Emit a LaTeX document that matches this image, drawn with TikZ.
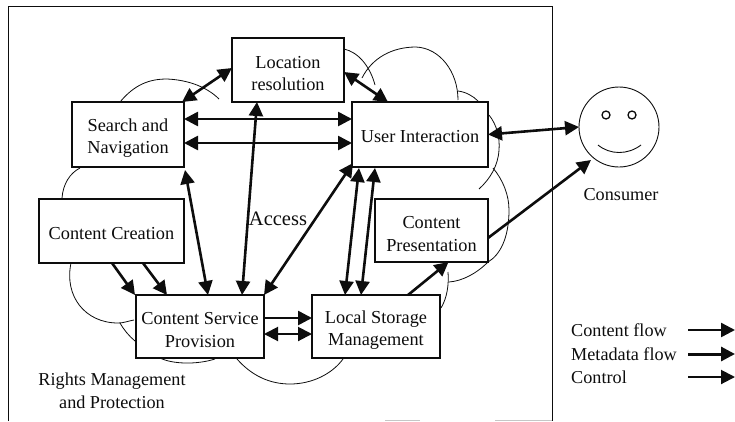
\documentclass[tikz,border=0pt]{standalone}
\usepackage{fontspec}
\setmainfont{Liberation Serif}
\usetikzlibrary{arrows.meta}
\definecolor{ink}{gray}{0.05}
\newcommand{\lowtwo}{\rule{0pt}{19.5pt}}
\newcommand{\lowone}{\rule{0pt}{17pt}}
\tikzset{
  box/.style={draw=ink,line width=2.5pt,fill=white,inner sep=0pt,outer sep=0pt,align=center,text=ink,font=\fontsize{18.3}{22.5}\selectfont},
  lbl/.style={inner sep=0pt,text=ink,font=\fontsize{18.2}{22.5}\selectfont,align=center},
  cloud/.style={draw=ink,line width=0.8pt},
  flow/.style={draw=ink,line width=2.6pt,-{Triangle[length=14pt,width=14pt]}},
  both/.style={draw=ink,line width=2.6pt,{Triangle[length=14pt,width=14pt]}-{Triangle[length=14pt,width=14pt]}},
  meta/.style={draw=ink,line width=2pt,{Triangle[length=14pt,width=14pt]}-{Triangle[length=14pt,width=14pt]}},
}
\begin{document}
\begin{tikzpicture}[x=1pt,y=-1pt]
\useasboundingbox (0,0) rectangle (735,421);
% frame
\draw[ink,line width=0.8pt] (8,421) -- (8,6) -- (552,6) -- (552,421);
\draw[gray!45,line width=0.6pt] (385,420) -- (420,420) (495,420) -- (552,420);
% cloud
\draw[cloud] (120,102) .. controls (135,84) and (150,79) .. (167,79) .. controls (190,80) and (208,88) .. (219,99);
\draw[cloud] (344,49) .. controls (358,52) and (370,66) .. (375,85);
\draw[cloud] (362,78) .. controls (372,58) and (392,47) .. (416,47) .. controls (440,48) and (458,72) .. (458,100);
\draw[cloud] (458,91) .. controls (466,92) and (473,96) .. (478,101);
\draw[cloud] (489,115) .. controls (497,125) and (500,138) .. (499,150) .. controls (498,166) and (490,179) .. (479,189);
\draw[cloud] (493,168) .. controls (503,180) and (509,195) .. (509,210) .. controls (509,238) and (500,255) .. (488,262) .. controls (476,274) and (462,281) .. (449,282);
\draw[cloud] (448,272) .. controls (449,285) and (447,298) .. (441,308);
\draw[cloud] (237,359) .. controls (252,376) and (270,384) .. (290,384) .. controls (312,384) and (332,374) .. (343,359);
\draw[cloud] (160,358) .. controls (172,364) and (196,365) .. (215,359);
\draw[cloud] (71,263) .. controls (64,296) and (85,323) .. (118,323) .. controls (124,323) and (128,321) .. (134,320);
\draw[cloud] (120,323) .. controls (124,330) and (129,336) .. (135,341);
\draw[cloud] (80,168) .. controls (70,173) and (63,184) .. (62,198);
% boxes
\node[box,minimum width=112pt,minimum height=64pt] (loc) at (288,70) {\lowtwo Location\\resolution};
\node[box,minimum width=112pt,minimum height=65pt] (search) at (128,134.5) {\lowtwo Search and\\Navigation};
\node[box,minimum width=136pt,minimum height=65pt] (user) at (420,134.5) {\lowone User Interaction};
\node[box,minimum width=145pt,minimum height=64pt] (create) at (111.5,231) {\lowone Content Creation};
\node[box,minimum width=128pt,minimum height=63pt] (csp) at (200,326.5) {\lowtwo Content Service\\Provision};
\node[box,minimum width=128pt,minimum height=63pt] (lsm) at (376,326.5) {\lowtwo Local Storage\\Management};
\node[box,minimum width=113pt,minimum height=63pt] (pres) at (431.5,230.5) {\lowtwo Content\\Presentation};
% consumer
\node[circle,draw=ink,line width=0.9pt,minimum size=80pt,inner sep=0pt,outer sep=0pt] (face) at (619,127) {};
\node[circle,draw=ink,line width=1.3pt,minimum size=8pt,inner sep=0pt] (eyeL) at (606,115) {};
\node[circle,draw=ink,line width=1.3pt,minimum size=8pt,inner sep=0pt] (eyeR) at (632,115) {};
\draw[ink,line width=0.9pt] (598,145) .. controls (610,155) and (628,155) .. (641,145);
% labels
\node[lbl] (consumer) at (621,195) {Consumer};
\node[lbl,font=\fontsize{20.5}{24}\selectfont] (access) at (278,219) {Access};
\node[lbl] (rights) at (112,391) {Rights Management\\and Protection};
\node[lbl,anchor=west] (l1) at (571,330) {Content flow};
\node[lbl,anchor=west] (l2) at (571,354) {Metadata flow};
\node[lbl,anchor=west] (l3) at (571,377) {Control};
\coordinate (l1s) at (688,330); \coordinate (l1e) at (735,330);
\coordinate (l2s) at (688,354); \coordinate (l2e) at (735,354);
\coordinate (l3s) at (688,377); \coordinate (l3e) at (735,377);
% connectors
\draw[both] ([yshift=-30pt]loc.north west) -- ([xshift=110pt]search.north west);
\draw[both] ([yshift=-17pt]search.north east) -- ([yshift=-17pt]user.north west);
\draw[both] ([yshift=-41pt]search.north east) -- ([yshift=-41pt]user.north west);
\draw[both] ([xshift=-31pt]loc.south) -- ([xshift=42pt]csp.north);
\draw[both] ([xshift=1pt,yshift=-3pt]search.south east) -- ([xshift=8pt]csp.north);
\draw[both] ([xshift=1pt,yshift=4pt]user.south west) -- (csp.north east);
\draw[both] ([xshift=7pt,yshift=-1pt]user.south west) -- ([xshift=33pt]lsm.north west);
\draw[both] ([xshift=23pt,yshift=-1pt]user.south west) -- ([xshift=49pt]lsm.north west);
\draw[both] ([yshift=-34pt]loc.north east) -- ([xshift=-32pt]user.north);
\draw[flow] ([xshift=73pt]create.south west) -- ([xshift=-1pt]csp.north west);
\draw[flow] ([xshift=104pt]create.south west) -- ([xshift=31pt]csp.north west);
\draw[flow] ([yshift=-23pt]csp.north east) -- ([yshift=-23pt]lsm.north west);
\draw[meta] ([yshift=-39pt]csp.north east) -- ([yshift=-39pt]lsm.north west);
\draw[both] (user.east) -- (face.west);
\draw[flow] ([xshift=96pt]lsm.north west) -- ([xshift=17pt]pres.south);
\draw[flow] ([yshift=-39pt]pres.north east) -- ([xshift=-28pt,yshift=-33pt]face.center);
\draw[-{Triangle[length=14pt,width=14pt]},draw=ink,line width=2.4pt] (l1s) -- (l1e);
\draw[-{Triangle[length=14pt,width=14pt]},draw=ink,line width=3pt] (l2s) -- (l2e);
\draw[-{Triangle[length=14pt,width=14pt]},draw=ink,line width=2pt] (l3s) -- (l3e);
\end{tikzpicture}
\end{document}
